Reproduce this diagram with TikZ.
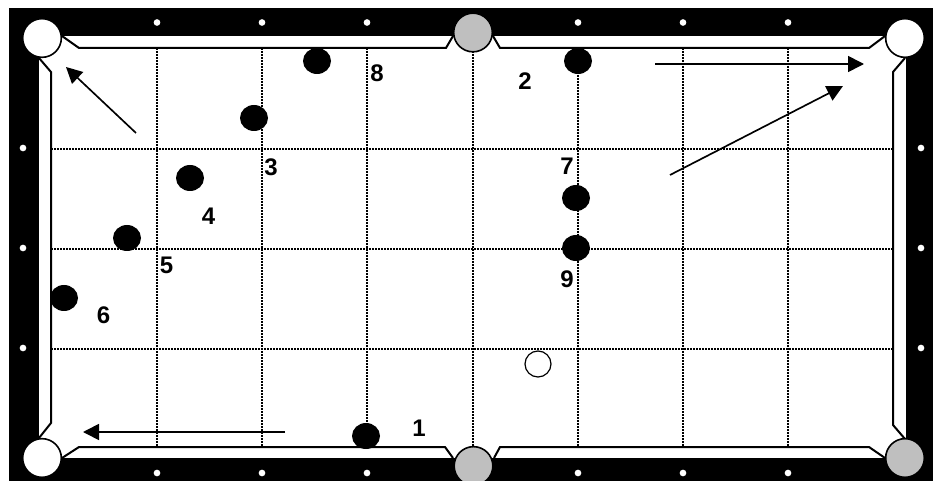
\documentclass[tikz,border=0pt]{standalone}
\usepackage{fontspec}
\setmainfont{Liberation Sans}
\usetikzlibrary{arrows.meta,shapes.geometric}
\definecolor{pocketgray}{RGB}{191,191,191}
\tikzset{
  px/.style={x=0.75pt, y=-0.75pt},
  cushion/.style={draw=black, line width=1.5pt, line join=miter},
  gridline/.style={draw=black, line width=1.4pt, dash pattern=on 1.5pt off 0.75pt},
  pocket/.style={circle, draw=black, line width=1.2pt, fill=white, minimum size=29pt, inner sep=0pt},
  graypocket/.style={pocket, fill=pocketgray},
  sight/.style={circle, fill=white, minimum size=5pt, inner sep=0pt},
  ball/.style={ellipse, fill=black, minimum width=21pt, minimum height=19.5pt, inner sep=0pt},
  cueball/.style={circle, draw=black, line width=0.9pt, fill=white, minimum size=19.5pt, inner sep=0pt},
  num/.style={font=\fontsize{18}{18}\selectfont\bfseries, inner sep=0pt},
  arr/.style={-{Triangle[length=12pt,width=12pt]}, line width=1.25pt}
}
\begin{document}
\begin{tikzpicture}[px]
  \useasboundingbox (0,0) rectangle (933,481);
  % table frame
  \fill[black] (9,8) rectangle (933,481);
  \fill[white] (39,36) rectangle (906,458);

  % grid
  \foreach \gx in {157,262,367,473,578,683,788}
    \draw[gridline] (\gx,48) -- (\gx,447);
  \foreach \gy in {149,249,349}
    \draw[gridline] (51,\gy) -- (893,\gy);

  % cushions
  \draw[cushion] (62,36) -- (79,48) -- (446,48) -- (453,36);
  \draw[cushion] (493,36) -- (500,48) -- (869,48) -- (885,36);
  \draw[cushion] (905,58) -- (893,72) -- (893,425) -- (905,439);
  \draw[cushion] (885,458) -- (869,447) -- (500,447) -- (494,458);
  \draw[cushion] (453,458) -- (445,447) -- (79,447) -- (62,458);
  \draw[cushion] (39,438) -- (51,423) -- (51,72) -- (39,58);

  % pockets
  \node[pocket] (pocketTL) at (42,38) {};
  \node[graypocket] (pocketT) at (473,32.5) {};
  \node[pocket] (pocketTR) at (905,38) {};
  \node[pocket] (pocketBL) at (42,458) {};
  \node[graypocket] (pocketB) at (473.5,466) {};
  \node[graypocket] (pocketBR) at (905,458) {};

  % sights
  \foreach \gx in {157,262,367,578,683,788} {
    \node[sight] (top\gx) at (\gx,22.5) {};
    \node[sight] (bot\gx) at (\gx,473) {};
  }
  \foreach \gy in {148,248,348} {
    \node[sight] (left\gy) at (23,\gy) {};
    \node[sight] (right\gy) at (921,\gy) {};
  }

  % balls
  \node[ball] (b1) at (366,436) {};
  \node[ball] (b2) at (578,61) {};
  \node[ball] (b3) at (254,118) {};
  \node[ball] (b4) at (190,178) {};
  \node[ball] (b5) at (127,238) {};
  \node[ball] (b6) at (64,298) {};
  \node[ball] (b7) at (576,198) {};
  \node[ball] (b8) at (317,61) {};
  \node[ball] (b9) at (576,248) {};
  \node[cueball] (cue) at (538,364) {};

  % numbers
  \node[num] (n1) at (419,428.5) {1};
  \node[num] (n2) at (525,81.5) {2};
  \node[num] (n3) at (271,167.5) {3};
  \node[num] (n4) at (208.5,216.5) {4};
  \node[num] (n5) at (166.5,265.5) {5};
  \node[num] (n6) at (103.5,315.5) {6};
  \node[num] (n7) at (567,166.5) {7};
  \node[num] (n8) at (377,73.5) {8};
  \node[num] (n9) at (567,279.5) {9};

  % shot directions
  \coordinate (a1s) at (136,133);
  \coordinate (a1e) at (66,67);
  \coordinate (a2s) at (655,64);
  \coordinate (a2e) at (864,64);
  \coordinate (a3s) at (670,175);
  \coordinate (a3e) at (843,86);
  \coordinate (a4s) at (285,432);
  \coordinate (a4e) at (83,432);
  \draw[arr] (a1s) -- (a1e);
  \draw[arr] (a2s) -- (a2e);
  \draw[arr] (a3s) -- (a3e);
  \draw[arr] (a4s) -- (a4e);
\end{tikzpicture}
\end{document}
